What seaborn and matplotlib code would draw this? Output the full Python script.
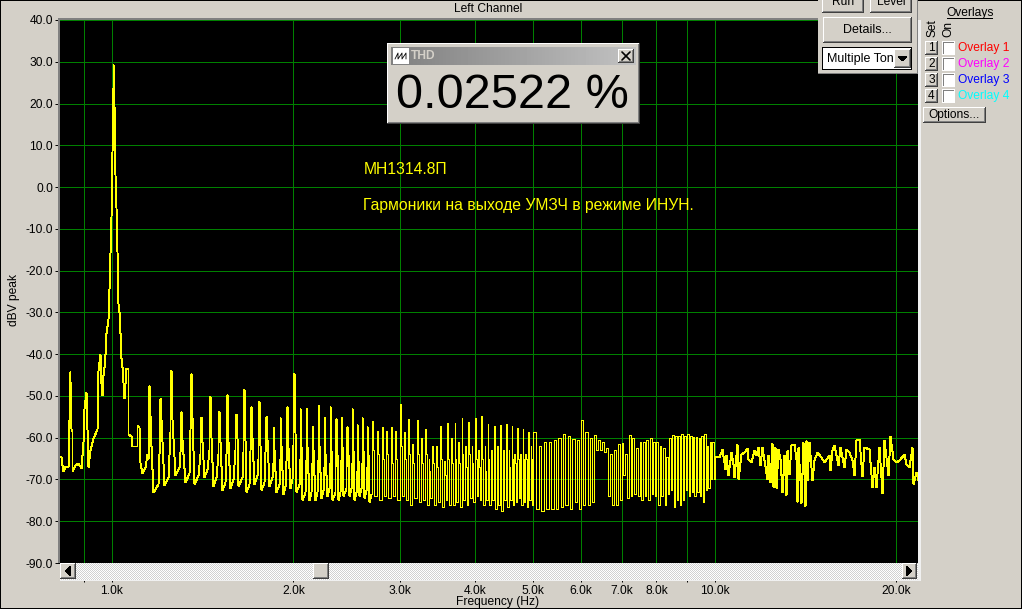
import numpy as np
import matplotlib
matplotlib.use("Agg")
import matplotlib.pyplot as plt
from matplotlib.patches import Rectangle
import seaborn as sns

# ---------- data ----------
low_freq = [820, 823, 826, 830, 835, 846, 851, 853, 855, 859, 860, 868, 879, 888, 894, 900, 904, 911,
            919, 931, 943, 949, 954, 959, 964, 967, 971, 975, 978, 984, 987, 991, 995, 999, 1003, 1005,
            1008, 1010, 1014, 1018, 1022, 1027, 1031, 1034, 1038, 1044, 1048, 1054, 1062, 1064, 1074,
            1080, 1099, 1102, 1109, 1113, 1120, 1135, 1144]
low_db = [-64.3, -64.6, -66.5, -68, -66.8, -67, -44, -46.5, -58, -58.5, -68, -66.5, -66, -67.3, -61, -53, -49, -67,
          -63, -60, -58, -43.8, -40, -47, -49.8, -45, -43, -40, -35, -31.5, -24.5, -16, -7, 8.5, 24, 29.5,
          19.5, 3, -5, -15.5, -28, -30, -35, -41, -43, -47, -50.5, -43.4, -43.6, -59, -59.5,
          -62, -62, -57, -57.5, -66, -68.5, -67, -64]

comb_freq = [1150, 1200, 1250, 1300, 1350, 1400, 1450, 1500, 1550, 1600,
             1650, 1700, 1750, 1800, 1850, 1900, 1950, 2000, 2050, 2100,
             2150, 2200, 2250, 2300, 2350, 2400, 2450, 2500, 2550, 2600,
             2650, 2700, 2750, 2800, 2850, 2900, 2950, 3000, 3050, 3100,
             3150, 3200, 3250, 3300, 3350, 3400, 3450, 3500, 3550, 3600,
             3650, 3700, 3750, 3800, 3850, 3900, 3950, 4000, 4050, 4100,
             4150, 4200, 4250, 4300, 4350, 4400, 4450, 4500, 4550, 4600,
             4650, 4700, 4750, 4800, 4850, 4900, 4950, 5000, 5050, 5100,
             5150, 5200, 5250, 5300, 5350, 5400, 5450, 5500, 5550, 5600,
             5650, 5700, 5750, 5800, 5850, 5900, 5950, 6000, 6050, 6100,
             6150, 6200, 6250, 6300, 6350, 6400, 6450, 6500, 6550, 6600,
             6650, 6700, 6750, 6800, 6850, 6900, 6950, 7000, 7050, 7100,
             7150, 7200, 7250, 7300, 7350, 7400, 7450, 7500, 7550, 7600,
             7650, 7700, 7750, 7800, 7850, 7900, 7950, 8000, 8050, 8100,
             8150, 8200, 8250, 8300, 8350, 8400, 8450, 8500, 8550, 8600,
             8650, 8700, 8750, 8800, 8850, 8900, 8950, 9000, 9050, 9100,
             9150, 9200, 9250, 9300, 9350, 9400, 9450, 9500, 9550, 9600,
             9650, 9700, 9750, 9800, 9850, 9900, 9950, 10000]
comb_peak = [-47.3, -50.5, -43.8, -53.6, -44.6, -55, -50, -53.6, -49.5, -54.3,
             -48.4, -52.5, -51.3, -54.8, -57.5, -55, -52.5, -44.4, -53, -53,
             -57.2, -52.1, -55, -52.5, -55.3, -55, -57.3, -53, -56.8, -55,
             -57.2, -56, -58.5, -57.5, -58.5, -57.5, -58.3, -52, -58.7, -55.5,
             -61.5, -55.7, -60, -58, -65, -62, -62, -57.3, -65.5, -56.4,
             -60, -56.4, -61, -55.4, -62, -56.2, -62, -55.4, -63, -54.7,
             -62, -56.7, -63, -57.2, -62, -56.9, -63, -56.7, -63, -57.2,
             -64, -57.7, -64, -58, -64, -58.6, -62, -58.7, -66, -62,
             -66, -61, -66, -61, -64, -60.5, -66, -60, -64, -59,
             -63, -59.5, -62, -60.3, -63, -60.5, -64, -55.7, -60, -58.7,
             -61, -60, -63, -59.3, -62, -60.5, -61, -61, -61, -62.5,
             -59.8, -64, -62, -63, -60.5, -61.5, -64, -61.3, -66, -64,
             -63, -59.3, -65, -60, -65, -62.5, -61, -61, -66, -61,
             -63.5, -60.5, -65, -60, -61, -61, -62, -61, -67, -62,
             -62, -62.5, -61.8, -64.6, -62.4, -60, -60.6, -59.3, -59, -59.5,
             -59, -59.5, -60, -59, -60.5, -59.5, -59, -59.2, -59, -59.5,
             -59.3, -59.8, -59.3, -59.8, -59.5, -60, -58.6, -59.5, -58.3, -59,
             -59.3, -62, -63, -61, -62, -61, -65, -64.5]
comb_shoulder = [-62, -61, -55.7, -60.5, -55, -61, -60, -61, -61, -60,
                 -60.5, -60, -62, -60.5, -63, -62, -62.5, -58.5, -62, -62,
                 -63, -62, -64, -63, -64, -62, -64, -63, -65, -63,
                 -64, -63, -64, -65, -64, -66, -65, -62, -65, -64,
                 -66, -64, -66, -64, -68, -66, -67, -65, -69, -65,
                 -66, -65, -66, -64, -67, -64, -66, -65, -67, -65,
                 -68, -65, -66, -65, -67, -65, -66, -65, -67, -65,
                 -66, -65, -66, -65, -65, -65, -65, -63, -68, -65,
                 -68, -66, -67, -65, -65, -64, -66, -64, -65, -63,
                 -64, -63, -64, -63, -64, -64, -65, -62, -64, -63,
                 -64, -64, -64, -63, -63, -62, -62, -62, -62, -63,
                 -62, -68, -66, -65, -63, -66, -66, -64, -69, -66,
                 -66, -63, -66, -64, -66, -64, -63, -63, -67, -63,
                 -65, -63, -67, -63, -64, -64, -65, -64, -69, -65,
                 -65, -65, -65, -66, -64, -65, -65, -65, -64, -64,
                 -64, -65, -66, -64, -66, -66, -65, -66, -64, -65,
                 -65, -65, -64, -66, -65, -66, -64, -65, -64, -65,
                 -65, -65, -65, -67, -66, -65, -68, -67]
comb_deep = [-73, -71.3, -69, -70.5, -71, -69.5, -71.5, -72.5, -72, -71.5,
             -73, -71, -72.5, -71.5, -73, -73.5, -72, -73, -75, -75,
             -75, -74.5, -74, -75, -75, -74, -74, -75, -74, -74.5,
             -75.5, -74, -75, -74, -74.5, -74, -75, -74, -75, -76,
             -74.5, -75.5, -75, -76, -74.5, -76, -75.5, -76.5, -75, -76,
             -76, -75.5, -76.5, -75, -76, -74.5, -75.5, -74, -75, -76,
             -75, -76, -75, -77, -76, -77.5, -75, -76.5, -75, -76,
             -75.5, -74.5, -76, -75.5, -76.5, -75, -76, -74.5, -77, -75.5,
             -77.5, -75.5, -77, -76, -77, -75.5, -77, -76, -76.5, -75,
             -76, -75, -77, -75, -75.5, -74, -77, -75, -76, -75.5,
             -76, -77, -75.5, -76, -63, -62.5, -63, -64, -63.5, -64,
             -74, -73.5, -76, -78, -76, -75, -75, -74, -69, -68,
             -74.5, -75, -74, -74.5, -73.5, -75, -74, -74.5, -75, -73.5,
             -74, -75, -75, -77, -73.5, -75, -74, -73.5, -76, -75,
             -74, -74.5, -76, -75, -73.5, -74, -72.5, -75, -76.5, -74,
             -75, -74, -76, -73.5, -75, -75.5, -72.5, -76, -74, -74.5,
             -73, -75.3, -74, -75, -73, -72, -74, -72.5, -75.3, -74,
             -72.5, -73, -72, -75.3, -70, -73, -70, -75]

high_freq = [10154, 10285, 10377, 10443, 10523, 10617, 10713, 10754, 10878, 10933, 11031, 11173, 11289, 11345,
             11461, 11608, 11683, 11788, 11879, 11970, 12063, 12187, 12265, 12328, 12423, 12486, 12582, 12614,
             12726, 12824, 12939, 13022, 13138, 13189, 13273, 13392, 13530, 13616, 13704, 13756, 13845, 13916,
             14023, 14094, 14148, 14239, 14330, 14514, 14607, 14794, 14984, 15176, 15470, 15530, 15669, 15769,
             15972, 16135, 16342, 16488, 16700, 16850, 16979, 17132, 17352, 17507, 17688, 18029, 18191, 18378,
             18495, 18733, 18900, 19094, 19339, 19489, 19714, 19968, 20226, 20565, 20749, 21015, 21204, 21340,
             21558, 21698]
high_db = [-64.6, -62.6, -67.4, -64.2, -69, -63.4, -66.2, -69.4, -61.4, -69.8, -63.8, -63.4, -62.4, -65,
           -65.8, -63, -64.2, -62.2, -66.6, -62.2, -65.4, -69.8, -64.2, -70.6, -61.3, -71.7, -62.2, -72.1,
           -62.6, -65, -72.9, -64.2, -73.7, -63, -68.6, -61.8, -61.4, -65, -75.3, -62.2, -70.2, -75.7,
           -61, -76.3, -60.6, -70.2, -61, -70.2, -65.4, -63.4, -64.6, -65.8, -64.2, -67.8, -63, -61.8,
           -66.6, -62.2, -67, -62.6, -63.4, -65.4, -69, -60.6, -60.2, -69.2, -62.2, -62.6, -71.7, -67,
           -71.7, -62.2, -73.2, -60.6, -69, -59.7, -65, -65.8, -65.4, -63.8, -66.2, -67, -62.2, -71,
           -68.2, -70.2]

y_ticks = [40, 30, 20, 10, 0, -10, -20, -30, -40, -50, -60, -70, -80, -90]
y_labels = ["40.0", "30.0", "20.0", "10.0", "0.0", "-10.0", "-20.0", "-30.0", "-40.0", "-50.0", "-60.0",
            "-70.0", "-80.0", "-90.0"]
x_ticks = [900, 1000, 2000, 3000, 4000, 5000, 6000, 7000, 8000, 9000, 10000, 20000]
x_labels = ["", "1.0k", "2.0k", "3.0k", "4.0k", "5.0k", "6.0k", "7.0k", "8.0k", "", "10.0k", "20.0k"]
overlay_names = ["Overlay 1", "Overlay 2", "Overlay 3", "Overlay 4"]
overlay_colors = ["#ff0000", "#ff00ff", "#0000ff", "#00ffff"]

# ---------- assemble trace: three stretches sharing their end points ----------
f1, d1 = list(low_freq), list(low_db)
f2, d2 = [], []
for i, f in enumerate(comb_freq):
    if f < 2700:
        # narrow spike standing on a shoulder, floor between spikes
        f1 += [f - 3, f, f + 3, f + 9, f + 20, f + 40]
        d1 += [comb_shoulder[i] - 3, comb_peak[i], comb_peak[i], comb_shoulder[i], comb_deep[i], comb_deep[i] + 2]
    elif f < 5000:
        f2 += [f, f + 12, f + 25]
        d2 += [comb_peak[i], comb_shoulder[i], comb_deep[i]]
    else:
        # neighbouring lines merge at this pixel pitch: alternate top and bottom of the comb
        f2 += [f]
        d2 += [comb_peak[i] if i % 2 == 1 else comb_deep[i]]
f2 = [f1[-1]] + f2
d2 = [d1[-1]] + d2
f3 = [f2[-1]] + high_freq
d3 = [d2[-1]] + high_db

# ---------- figure ----------
BG = "#d4d0c8"
sns.set_theme(style="dark")
plt.rcParams["font.family"] = ["Liberation Sans", "DejaVu Sans"]
W, H = 1022, 609
fig = plt.figure(figsize=(W / 100, H / 100), dpi=100, facecolor=BG)
ax = fig.add_axes([60 / W, (H - 563) / H, (918 - 60) / W, (563 - 20) / H], facecolor="black")
ax.set_xscale("log")
ax.set_xlim(820, 21720)
ax.set_ylim(-90, 40)
GREEN = "#008000"
ax.grid(False)
for v in x_ticks:
    ax.axvline(v, color=GREEN, lw=0.7, antialiased=False, zorder=1)
for v in y_ticks:
    ax.axhline(v, color=GREEN, lw=0.7, antialiased=False, zorder=1, clip_on=False)
trace = dict(estimator=None, sort=False, errorbar=None, ax=ax, color="#ffff00", lw=0.7,
             antialiased=False, legend=False, zorder=3, snap=True)
sns.lineplot(x=f1, y=d1, **trace)
sns.lineplot(x=f2, y=d2, drawstyle="steps-post", **trace)
sns.lineplot(x=f3, y=d3, **trace)
for s in ax.spines.values():
    s.set_visible(False)
ax.minorticks_off()
ax.set_xticks(x_ticks)
ax.set_xticklabels(x_labels)
ax.set_yticks(y_ticks)
ax.set_yticklabels(y_labels)
ax.tick_params(axis="x", which="both", length=13.7, width=0.7, color="black", pad=2.2, labelsize=8.64,
               labelcolor="black", bottom=True)
ax.tick_params(axis="y", which="both", length=3.5, width=0.7, color="black", pad=1.5, labelsize=8.64,
               labelcolor="black", left=True)
ax.set_xlabel("")
ax.set_ylabel("")
ax.text(0.3535, 0.7238, "МН1314.8П", transform=ax.transAxes, color="#ffff00", fontsize=11.3, va="center")
ax.text(0.3535, 0.659, "Гармоники на выходе УМЗЧ в режиме ИНУН.", transform=ax.transAxes, color="#ffff00",
        fontsize=11.3, va="center")

# ---------- window furniture, in pixel coordinates ----------
ov = fig.add_axes([0, 0, 1, 1], facecolor="none", zorder=5)
ov.set_axis_off()


def box(x0, y0, x1, y1, color=BG, z=1):
    ov.add_patch(Rectangle((x0, y0), x1 - x0, y1 - y0, facecolor=color, edgecolor="none", antialiased=False, zorder=z))


def button(x0, y0, x1, y1, z=2):
    box(x0, y0, x1, y1, "#404040", z)
    box(x0, y0, x1 - 1, y1 - 1, "#ffffff", z)
    box(x0 + 1, y0 + 1, x1 - 1, y1 - 1, "#808080", z)
    box(x0 + 1, y0 + 1, x1 - 2, y1 - 2, BG, z)


def label(x, y, s, **kw):
    kw.setdefault("fontsize", 8.64)
    kw.setdefault("color", "black")
    kw.setdefault("va", "center")
    kw.setdefault("zorder", 6)
    ov.text(x, y, s, **kw)


# outer frame
box(0, 0, W, 1, "black")
box(0, 0, 1, H, "black")
box(0, 608, W, H, "black")
box(1021, 0, W, H, "black")
# plot bevel
box(58, 18, 918, 20, "#808080")
box(58, 18, 60, 563, "#808080")
box(918, 20, 921, 581, "#f0f0f0")
box(60, 580, 921, 581, "#f0f0f0")
label(488, 9, "Left Channel", ha="center")
label(14, 300, "dBV peak", rotation=90, ha="center")
label(498, 602, "Frequency (Hz)", ha="center")

# scrollbar with dithered track
rows, cols = np.indices((17, 858))
dither = np.where((rows + cols) % 2 == 0, 1.0, 0.82)
ov.imshow(dither, cmap="gray", vmin=0, vmax=1, extent=(60, 918, 580, 563), aspect="auto",
          interpolation="nearest", zorder=1)
button(60, 563, 76, 579)
ov.fill([70, 70, 66], [567, 575, 571], color="black", zorder=3, antialiased=False)
button(313, 563, 329, 579)
button(902, 563, 917, 579)
ov.fill([907, 907, 911], [567, 575, 571], color="black", zorder=3, antialiased=False)

# top right panel
box(818, 0, 918, 74, BG)
box(917, 0, 918, 74, "#808080")
box(818, 73, 918, 74, "#808080")
button(822, -4, 864, 13)
button(870, -4, 912, 13)
label(843, 2, "Run", ha="center")
label(891, 2, "Level", ha="center")
button(823, 17, 912, 43)
label(867, 30, "Details...", ha="center", fontsize=9)
box(822, 47, 912, 70, "black")
box(823, 48, 911, 69, "white")
label(827, 59, "Multiple Ton", fontsize=9)
button(894, 49, 911, 68)
ov.fill([899, 906, 902.5], [57, 57, 60.5], color="black", zorder=3, antialiased=False)

# overlays column
label(970, 13, "Overlays", ha="center")
box(947, 18, 993, 19, "black")
label(933, 28, "Set", rotation=90, ha="center")
label(948, 29, "On", rotation=90, ha="center")
for i, (name, col) in enumerate(zip(overlay_names, overlay_colors)):
    y = 48 + 16 * i
    button(925, y - 7, 938, y + 7)
    label(931.5, y, str(i + 1), ha="center", fontsize=8.6)
    box(942, y - 7, 955, y + 7, "white")
    box(943, y - 6, 954, y + 6, "#808080")
    box(944, y - 5, 954, y + 6, "white")
    label(958, y, name, color=col)
button(923, 107, 986, 123)
label(954.5, 115, "Options...", ha="center")

# THD window
button(387, 43, 640, 124, z=2)
grad = np.linspace(0.5, 0.76, 245).reshape(1, -1)
ov.imshow(grad, cmap="gray", vmin=0, vmax=1, extent=(391, 636, 65, 47), aspect="auto", zorder=3)
box(393, 48, 409, 64, "white", 4)
ov.plot([395, 398, 398, 402, 402, 406, 406], [59, 53, 59, 53, 59, 53, 59], color="black", lw=0.6, zorder=5)
label(411, 56, "THD", fontweight="bold", color="#d4d0c8")
button(618, 49, 634, 63, z=4)
ov.plot([622, 630], [52, 60], color="black", lw=1.2, zorder=5)
ov.plot([622, 630], [60, 52], color="black", lw=1.2, zorder=5)
label(396, 96, "0.02522 %", fontsize=35)

ov.set_xlim(0, W)
ov.set_ylim(H, 0)
fig.savefig("out.png", dpi=100, facecolor=BG)
